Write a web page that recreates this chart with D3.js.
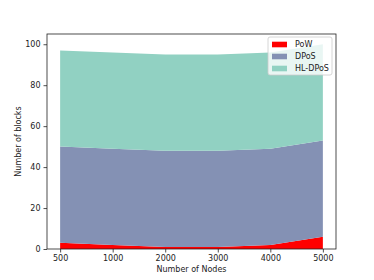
<!DOCTYPE html>
<html>
<head>
<meta charset="utf-8">
<script src="https://cdn.jsdelivr.net/npm/d3@7"></script>
<style>
  body { margin: 0; background: #fff; }
  text { font-family: "DejaVu Sans", sans-serif; fill: #222; }
</style>
</head>
<body>
<div id="chart"></div>
<script>
// data
var nodes = ["500", "1000", "2000", "3000", "4000", "5000"];
var pow = [3, 2, 1, 1, 2, 6];
var dpos = [47, 47, 47, 47, 47, 47];
var hldpos = [47, 47, 47, 47, 47, 47];
var seriesNames = ["PoW", "DPoS", "HL-DPoS"];
var colors = ["#ff0000", "#8491b4", "#91d1c2"];
var yTicks = [0, 20, 40, 60, 80, 100];

var W = 374, H = 280;
var m = { left: 47, right: 38, top: 34, bottom: 31 };
var iw = W - m.left - m.right, ih = H - m.top - m.bottom;
var fs = "8px";

var rows = nodes.map(function (n, i) {
  return { n: n, PoW: pow[i], DPoS: dpos[i], "HL-DPoS": hldpos[i] };
});
var stack = d3.stack().keys(seriesNames)(rows);

var svg = d3.select("#chart").append("svg")
  .attr("width", W).attr("height", H);
var g = svg.append("g").attr("transform", "translate(" + m.left + "," + m.top + ")");

// index scale with matplotlib-like 5% margins
var x = d3.scaleLinear()
  .domain([-0.05 * (nodes.length - 1), (nodes.length - 1) * 1.05])
  .range([0, iw]);
var y = d3.scaleLinear().domain([0, 105]).range([ih, 0]);

var area = d3.area()
  .x(function (d, i) { return x(i); })
  .y0(function (d) { return y(d[0]); })
  .y1(function (d) { return y(d[1]); });

g.selectAll(".layer").data(stack).enter().append("path")
  .attr("class", "layer")
  .attr("d", area)
  .attr("fill", function (d, i) { return colors[i]; });

// axes
var xAxis = d3.axisBottom(x)
  .tickValues(d3.range(nodes.length))
  .tickFormat(function (i) { return nodes[i]; })
  .tickSize(3.5).tickPadding(3);
var yAxis = d3.axisLeft(y).tickValues(yTicks).tickSize(3.5).tickPadding(3);

var gx = g.append("g").attr("transform", "translate(0," + ih + ")").call(xAxis);
var gy = g.append("g").call(yAxis);
[gx, gy].forEach(function (a) {
  a.select(".domain").remove();
  a.selectAll("text").style("font-size", fs).style("font-family", "DejaVu Sans").attr("fill", "#222");
  a.selectAll("line").attr("stroke", "#222").attr("stroke-width", 0.8);
});

// frame
g.append("rect").attr("width", iw).attr("height", ih)
  .attr("fill", "none").attr("stroke", "#222").attr("stroke-width", 0.8);

// labels
svg.append("text").attr("x", m.left + iw / 2).attr("y", 272)
  .attr("text-anchor", "middle").style("font-size", fs).text("Number of Nodes");
svg.append("text").attr("transform", "translate(21," + (m.top + ih / 2) + ") rotate(-90)")
  .attr("text-anchor", "middle").style("font-size", fs).text("Number of blocks");

// legend
var lg = svg.append("g").attr("transform", "translate(268,37)");
lg.append("rect").attr("width", 64).attr("height", 38).attr("rx", 2)
  .attr("fill", "#fff").attr("fill-opacity", 0.8).attr("stroke", "#ccc").attr("stroke-width", 0.8);
seriesNames.forEach(function (s, i) {
  var yy = 7.5 + i * 12;
  lg.append("rect").attr("x", 4).attr("y", yy - 2.8).attr("width", 15).attr("height", 5.6)
    .attr("fill", colors[i]);
  lg.append("text").attr("x", 27).attr("y", yy + 2.8).style("font-size", fs).text(s);
});
</script>
</body>
</html>
